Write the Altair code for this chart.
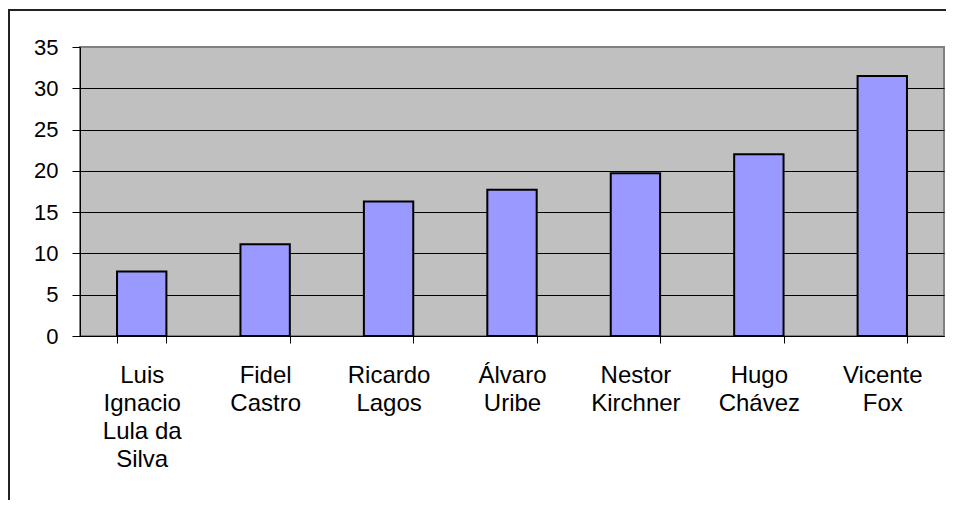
import altair as alt
import pandas as pd

names = [
    "Luis\nIgnacio\nLula da\nSilva",
    "Fidel\nCastro",
    "Ricardo\nLagos",
    "Álvaro\nUribe",
    "Nestor\nKirchner",
    "Hugo\nChávez",
    "Vicente\nFox",
]
values = [7.8, 11.1, 16.3, 17.7, 19.7, 22.0, 31.5]
y_ticks = [0, 5, 10, 15, 20, 25, 30, 35]

df = pd.DataFrame({"name": names, "value": values})

FONT = "Liberation Sans"

bars = alt.Chart(df).mark_bar(
    fill="#9999FF", stroke="#000000", strokeWidth=2
).encode(
    x=alt.X(
        "name:N",
        sort=None,
        scale=alt.Scale(paddingInner=0.6, paddingOuter=0.3),
        axis=alt.Axis(
            title=None,
            labelAngle=0,
            labelExpr="isValid(datum.value) ? split(datum.value, '\\n') : ''",
            labelFont=FONT,
            labelFontSize=24,
            labelLineHeight=28,
            labelColor="#000000",
            labelPadding=20,
            labelBaseline="top",
            tickBand="extent",
            tickSize=7,
            tickColor="#000000",
            domainColor="#000000",
            domainWidth=1,
            grid=False,
        ),
    ),
    y=alt.Y(
        "value:Q",
        scale=alt.Scale(domain=[0, 35], nice=False),
        axis=alt.Axis(
            title=None,
            values=y_ticks,
            labelFont=FONT,
            labelFontSize=22,
            labelColor="#000000",
            labelPadding=14,
            tickSize=8,
            tickColor="#000000",
            domainColor="#000000",
            grid=True,
            gridColor={"condition": {"test": "datum.value == 35", "value": "#808080"}, "value": "#000000"},
            gridWidth=1,
        ),
    ),
)

frame = alt.Chart(pd.DataFrame({"f": [0]})).mark_rect(
    fill=None, stroke="#222222", strokeWidth=2
).encode(
    x=alt.value(-71),
    x2=alt.value(2000),
    y=alt.value(-37),
    y2=alt.value(2000),
)

chart = alt.layer(bars, frame).properties(
    width=864,
    height=289,
    autosize=alt.AutoSizeParams(type="none"),
    padding={"left": 72, "top": 39, "right": 2, "bottom": 164},
    background="#FFFFFF",
).configure_view(
    fill="#C0C0C0", stroke="#808080", strokeWidth=2
)

chart.save("out.html", embed_options={"renderer": "svg", "actions": False})
